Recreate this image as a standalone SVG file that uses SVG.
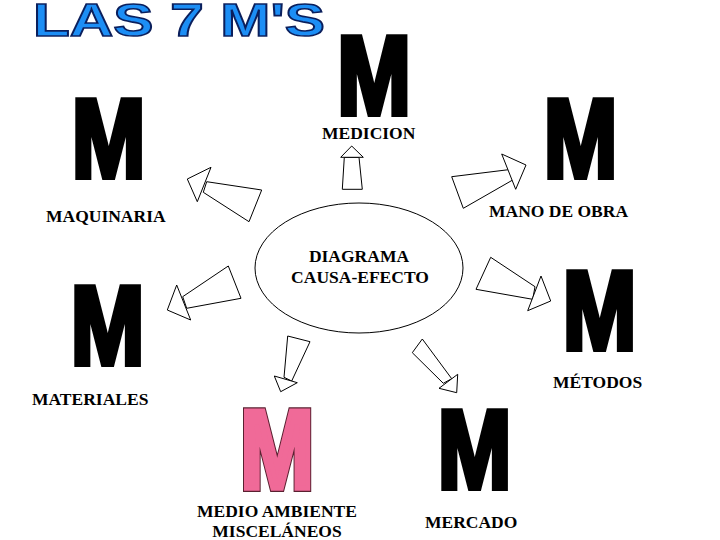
<svg xmlns="http://www.w3.org/2000/svg" width="720" height="540" viewBox="0 0 720 540">
<style>
.bigm{font-family:"Liberation Sans",Arial,sans-serif;font-weight:bold;font-size:112px;fill:#000;stroke:#000;stroke-width:6;stroke-linejoin:miter;text-anchor:middle}
.pinko{fill:#5a2030;stroke:#5a2030;stroke-width:8}
.pink{fill:#f06a98;stroke:#f06a98;stroke-width:5.5}
.lbl{font-family:"Liberation Serif","Times New Roman",serif;font-weight:bold;font-size:17.5px;fill:#000}
.ctr{text-anchor:middle}
.arr{fill:#fff;stroke:#000;stroke-width:1}
.title{font-family:"Liberation Sans",Arial,sans-serif;font-weight:bold;font-size:47px;fill:#1c8ef5;stroke:#0b1f5c;stroke-width:1.6}
</style>
<rect width="720" height="540" fill="#fff"/>
<text class="title" x="33" y="36" textLength="292" lengthAdjust="spacingAndGlyphs">LAS 7 M'S</text>

<g id="center">
<ellipse cx="359" cy="268" rx="104" ry="65" fill="none" stroke="#000" stroke-width="1"/>
<text class="lbl ctr" x="359" y="262">DIAGRAMA</text>
<text class="lbl ctr" x="360" y="283">CAUSA-EFECTO</text>
</g>

<g id="maquinaria">
<text class="bigm" transform="translate(108.5,177) scale(0.79,1)">M</text>
<text class="lbl" x="46" y="222">MAQUINARIA</text>
</g>
<g id="medicion">
<text class="bigm" transform="translate(374,114) scale(0.79,1)">M</text>
<text class="lbl" x="322" y="139">MEDICION</text>
</g>
<g id="manodeobra">
<text class="bigm" transform="translate(580.5,177) scale(0.79,1)">M</text>
<text class="lbl" x="489" y="217">MANO DE OBRA</text>
</g>
<g id="materiales">
<text class="bigm" transform="translate(107.5,364) scale(0.79,1)">M</text>
<text class="lbl" x="32" y="405">MATERIALES</text>
</g>
<g id="metodos">
<text class="bigm" transform="translate(599.5,349) scale(0.79,1)">M</text>
<text class="lbl" x="553" y="388">MÉTODOS</text>
</g>
<g id="medioambiente">
<text class="bigm pinko" transform="translate(277,488) scale(0.79,1)">M</text>
<text class="bigm pink" transform="translate(277,488) scale(0.79,1)">M</text>
<text class="lbl ctr" x="277" y="517">MEDIO AMBIENTE</text>
<text class="lbl ctr" x="277" y="537">MISCELÁNEOS</text>
</g>
<g id="mercado">
<text class="bigm" transform="translate(474.5,488) scale(0.79,1)">M</text>
<text class="lbl" x="425" y="528">MERCADO</text>
</g>

<g id="connectors">
<polygon class="arr" points="206.7,181.7 261.7,190 249,221.7 203.3,192.3"/>
<polygon class="arr" points="187.3,179 211,167.3 197.3,201.7"/>
<polygon class="arr" points="344.3,157.3 359,157.3 362.3,189.3 342.3,189.3"/>
<polygon class="arr" points="340.7,157.3 351.7,146 363.3,157.3"/>
<polygon class="arr" points="451.7,176.7 511.7,169.3 512.7,180 463.3,208.3"/>
<polygon class="arr" points="501.7,154 526,165 515.7,189.3"/>
<polygon class="arr" points="182.7,296.7 228.3,266 241,298.3 186.7,308.3"/>
<polygon class="arr" points="176.7,285 167.3,310 190.7,320"/>
<polygon class="arr" points="490.7,257.3 535,286.7 532.7,299.3 476,289.3"/>
<polygon class="arr" points="541,276 550.7,301 527.7,310.7"/>
<polygon class="arr" points="287.7,336 310,341.7 291.7,381 284,377.3"/>
<polygon class="arr" points="274.3,376 297.3,382.7 280.7,391.7"/>
<polygon class="arr" points="412.3,352.7 422.3,339 451.7,378.7 443.3,383.3"/>
<polygon class="arr" points="439,388.3 457.7,374.3 456.7,392.7"/>
</g>
</svg>
